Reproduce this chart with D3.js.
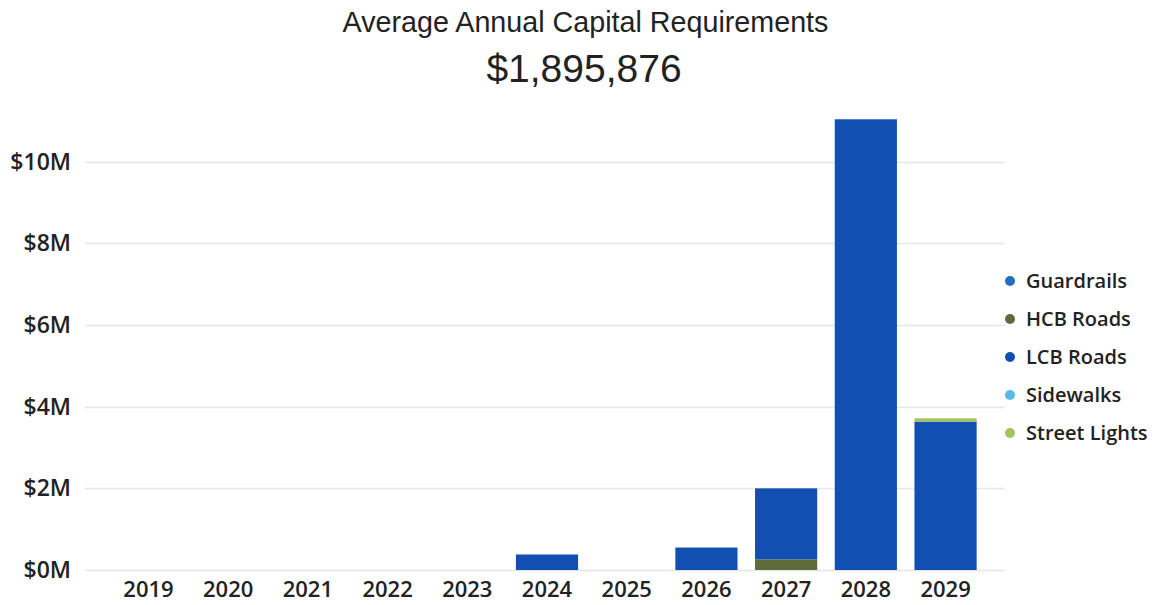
<!DOCTYPE html>
<html>
<head>
<meta charset="utf-8">
<script src="https://cdn.jsdelivr.net/npm/d3@7/dist/d3.min.js"></script>
<style>
  html, body { margin: 0; padding: 0; background: #ffffff; }
  svg { display: block; }
</style>
</head>
<body>
<svg id="chart" width="1158" height="605"></svg>
<script>
// Capital requirements by year, stacked by asset class (dollars)
const years = ["2019", "2020", "2021", "2022", "2023", "2024", "2025", "2026", "2027", "2028", "2029"];
const seriesNames = ["Guardrails", "HCB Roads", "LCB Roads", "Sidewalks", "Street Lights"];
const guardrails   = [0, 0, 0, 0, 0, 0, 0, 0, 0, 0, 0];
const hcbRoads     = [0, 0, 0, 0, 0, 0, 0, 0, 260000, 0, 0];
const lcbRoads     = [0, 0, 0, 0, 0, 380000, 0, 550000, 1740000, 11040000, 3635000];
const sidewalks    = [0, 0, 0, 0, 0, 0, 0, 0, 0, 0, 0];
const streetLights = [0, 0, 0, 0, 0, 0, 0, 0, 0, 0, 80000];
const yTicks = [0, 2000000, 4000000, 6000000, 8000000, 10000000];
const seriesColors = ["#1f6fc4", "#5f6b3b", "#1150b2", "#5bb9ea", "#a5c35c"];
const titleText = "Average Annual Capital Requirements";
const averageText = "$1,895,876";

const seriesValues = [guardrails, hcbRoads, lcbRoads, sidewalks, streetLights];
const rows = years.map((yr, i) => {
  const r = { year: yr };
  seriesNames.forEach((n, k) => { r[n] = seriesValues[k][i]; });
  return r;
});

const svg = d3.select("#chart");
const textColor = "#222222";

// Scales
const x = d3.scaleBand().domain(years).range([108.6, 985.4]).paddingInner(0.22).paddingOuter(0.11);
const y = d3.scaleLinear().domain([0, 11500000]).range([570, 100.5]);
const color = d3.scaleOrdinal().domain(seriesNames).range(seriesColors);

// Title block
svg.append("text")
  .attr("x", 585.5).attr("y", 32)
  .attr("text-anchor", "middle")
  .attr("font-family", "'Liberation Sans', Arial, sans-serif")
  .attr("font-size", 28.7)
  .attr("fill", textColor)
  .text(titleText);

svg.append("text")
  .attr("x", 584).attr("y", 82)
  .attr("text-anchor", "middle")
  .attr("font-family", "'Liberation Sans', Arial, sans-serif")
  .attr("font-size", 39)
  .attr("fill", textColor)
  .text(averageText);

// Horizontal gridlines
svg.append("g")
  .selectAll("line")
  .data(yTicks)
  .join("line")
  .attr("x1", 85).attr("x2", 1005)
  .attr("y1", d => Math.round(y(d)) + 0.5)
  .attr("y2", d => Math.round(y(d)) + 0.5)
  .attr("stroke", "#e6e6e6")
  .attr("stroke-width", 1.5);

// Y axis labels
const yAxis = d3.axisLeft(y)
  .tickValues(yTicks)
  .tickSize(0)
  .tickPadding(0)
  .tickFormat(d => "$" + d3.format("d")(d / 1e6) + "M");
const gy = svg.append("g").attr("transform", "translate(71,0)").call(yAxis);
gy.select(".domain").remove();
gy.selectAll("text")
  .attr("font-family", "'Open Sans', sans-serif")
  .attr("font-weight", 600)
  .attr("font-size", 23)
  .attr("fill", textColor);

// X axis labels
const xAxis = d3.axisBottom(x).tickSize(0).tickPadding(0);
const gx = svg.append("g").attr("transform", "translate(0,581)").call(xAxis);
gx.select(".domain").remove();
gx.selectAll("text")
  .attr("font-family", "'Open Sans', sans-serif")
  .attr("font-weight", 600)
  .attr("font-size", 22)
  .attr("fill", textColor);

// Stacked bars
const stacked = d3.stack().keys(seriesNames)(rows);
svg.append("g")
  .selectAll("g")
  .data(stacked)
  .join("g")
  .attr("fill", d => color(d.key))
  .selectAll("rect")
  .data(d => d.filter(s => s[1] - s[0] > 0))
  .join("rect")
  .attr("x", d => x(d.data.year))
  .attr("width", x.bandwidth())
  .attr("y", d => y(d[1]))
  .attr("height", d => y(d[0]) - y(d[1]));

// Legend
const legend = svg.append("g")
  .selectAll("g")
  .data(seriesNames)
  .join("g")
  .attr("transform", (d, i) => `translate(1010,${281 + i * 38})`);
legend.append("circle")
  .attr("r", 5)
  .attr("fill", d => color(d));
legend.append("text")
  .attr("x", 16)
  .attr("dy", "0.35em")
  .attr("font-family", "'Open Sans', sans-serif")
  .attr("font-weight", 600)
  .attr("font-size", 20)
  .attr("fill", textColor)
  .text(d => d);
</script>
</body>
</html>
